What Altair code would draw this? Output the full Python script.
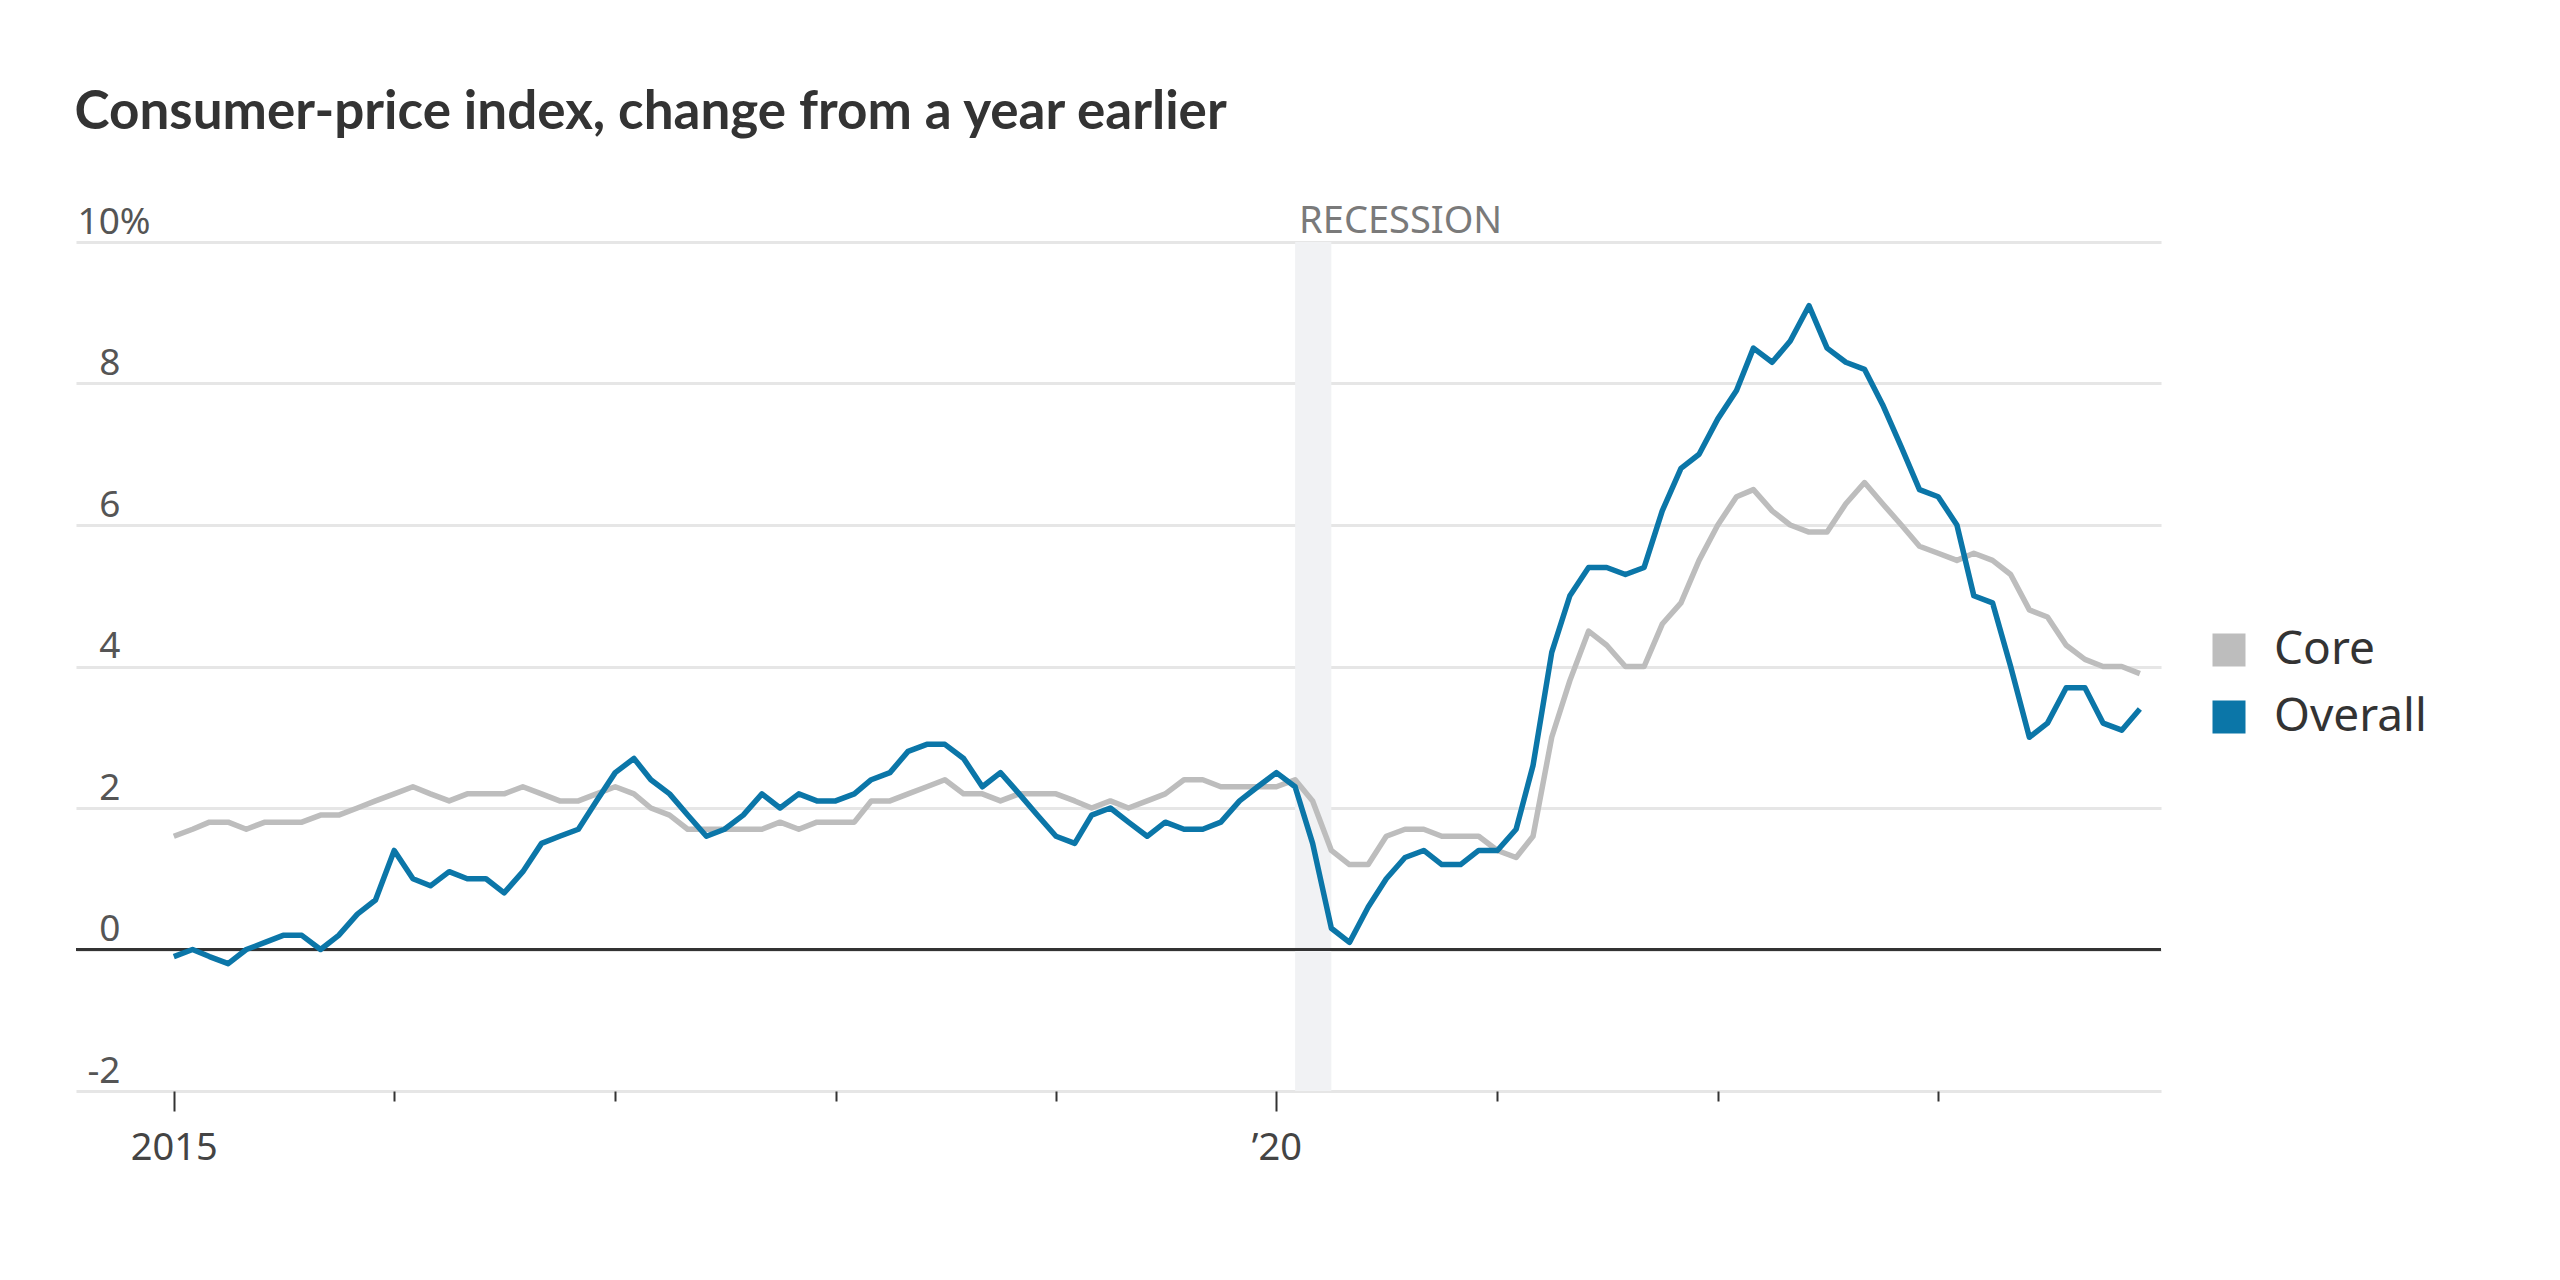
import altair as alt
import pandas as pd

# ---- data (monthly, Jan 2015 - Dec 2023), % change from a year earlier ----
months = pd.date_range("2015-01-01", "2023-12-01", freq="MS").strftime("%Y-%m-%dT00:00:00").tolist()

overall = [
    -0.1, 0.0, -0.1, -0.2, 0.0, 0.1, 0.2, 0.2, 0.0, 0.2, 0.5, 0.7,
    1.4, 1.0, 0.9, 1.1, 1.0, 1.0, 0.8, 1.1, 1.5, 1.6, 1.7, 2.1,
    2.5, 2.7, 2.4, 2.2, 1.9, 1.6, 1.7, 1.9, 2.2, 2.0, 2.2, 2.1,
    2.1, 2.2, 2.4, 2.5, 2.8, 2.9, 2.9, 2.7, 2.3, 2.5, 2.2, 1.9,
    1.6, 1.5, 1.9, 2.0, 1.8, 1.6, 1.8, 1.7, 1.7, 1.8, 2.1, 2.3,
    2.5, 2.3, 1.5, 0.3, 0.1, 0.6, 1.0, 1.3, 1.4, 1.2, 1.2, 1.4,
    1.4, 1.7, 2.6, 4.2, 5.0, 5.4, 5.4, 5.3, 5.4, 6.2, 6.8, 7.0,
    7.5, 7.9, 8.5, 8.3, 8.6, 9.1, 8.5, 8.3, 8.2, 7.7, 7.1, 6.5,
    6.4, 6.0, 5.0, 4.9, 4.0, 3.0, 3.2, 3.7, 3.7, 3.2, 3.1, 3.4,
]

core = [
    1.6, 1.7, 1.8, 1.8, 1.7, 1.8, 1.8, 1.8, 1.9, 1.9, 2.0, 2.1,
    2.2, 2.3, 2.2, 2.1, 2.2, 2.2, 2.2, 2.3, 2.2, 2.1, 2.1, 2.2,
    2.3, 2.2, 2.0, 1.9, 1.7, 1.7, 1.7, 1.7, 1.7, 1.8, 1.7, 1.8,
    1.8, 1.8, 2.1, 2.1, 2.2, 2.3, 2.4, 2.2, 2.2, 2.1, 2.2, 2.2,
    2.2, 2.1, 2.0, 2.1, 2.0, 2.1, 2.2, 2.4, 2.4, 2.3, 2.3, 2.3,
    2.3, 2.4, 2.1, 1.4, 1.2, 1.2, 1.6, 1.7, 1.7, 1.6, 1.6, 1.6,
    1.4, 1.3, 1.6, 3.0, 3.8, 4.5, 4.3, 4.0, 4.0, 4.6, 4.9, 5.5,
    6.0, 6.4, 6.5, 6.2, 6.0, 5.9, 5.9, 6.3, 6.6, 6.3, 6.0, 5.7,
    5.6, 5.5, 5.6, 5.5, 5.3, 4.8, 4.7, 4.3, 4.1, 4.0, 4.0, 3.9,
]

series_names = ["Core", "Overall"]
series_colors = ["#bdbdbd", "#0b76a8"]
y_ticks = [-2, 0, 2, 4, 6, 8, 10]
tick_years = list(range(2015, 2024))
x_domain = ["2014-07-23T00:00:00", "2024-01-05T00:00:00"]
recession = {"start": ["2020-02-01T00:00:00"], "end": ["2020-04-01T00:00:00"], "label": ["RECESSION"]}

df = pd.DataFrame({
    "date": months * 2,
    "value": core + overall,
    "series": ["Core"] * len(core) + ["Overall"] * len(overall),
})
rec_df = pd.DataFrame(recession)
zero_df = pd.DataFrame({"y": [0]})

LABEL_FONT = "Noto Sans"

x_scale = alt.Scale(domain=x_domain)
y_scale = alt.Scale(domain=[-2, 10])

x_axis = alt.Axis(
    values=[alt.DateTime(year=y, month=1, date=1) for y in tick_years],
    labelExpr="year(datum.value) == 2015 ? '2015' : (year(datum.value) == 2020 ? '\u201920' : '')",
    domain=False,
    grid=False,
    ticks=True,
    tickColor="#333333",
    tickWidth=2,
    tickSize={"condition": {"test": "year(datum.value) % 5 == 0", "value": 20}, "value": 10},
    labelFont=LABEL_FONT,
    labelFontSize=38,
    labelColor="#444444",
    labelPadding=18,
    labelFlush=False,
    labelOverlap=False,
    title=None,
)

y_axis = alt.Axis(
    values=y_ticks,
    labelExpr="datum.value == 10 ? '10%' : '' + datum.value",
    domain=False,
    ticks=False,
    tickSize=0,
    grid=True,
    gridColor="#e6e6e6",
    gridWidth=3,
    labelAlign={"condition": {"test": "datum.value == 10", "value": "left"}, "value": "right"},
    labelPadding={"condition": {"test": "datum.value == 10", "value": -1}, "value": -44},
    labelBaseline="alphabetic",
    labelOffset=-9,
    labelFont=LABEL_FONT,
    labelFontSize=37,
    labelColor="#555555",
    title=None,
)

band = alt.Chart(rec_df).mark_rect(color="#f1f2f4").encode(
    x=alt.X("start:T", scale=x_scale, axis=x_axis),
    x2="end:T",
)

band_label = alt.Chart(rec_df).mark_text(
    align="left", baseline="alphabetic", dx=4, dy=-9,
    font=LABEL_FONT, fontSize=38, color="#7a7a7a",
).encode(
    x=alt.X("start:T", scale=x_scale),
    y=alt.datum(10, scale=y_scale),
    text="label:N",
)

zero = alt.Chart(zero_df).mark_rule(color="#333333", strokeWidth=3).encode(
    y=alt.Y("y:Q", scale=y_scale, axis=y_axis),
)

lines = alt.Chart(df).mark_line(strokeWidth=5.5, strokeJoin="round", strokeCap="butt").encode(
    x=alt.X("date:T", scale=x_scale, axis=x_axis),
    y=alt.Y("value:Q", scale=y_scale, axis=y_axis),
    color=alt.Color(
        "series:N",
        scale=alt.Scale(domain=series_names, range=series_colors),
        legend=alt.Legend(
            title=None,
            orient="none",
            legendX=2130,
            legendY=385,
            symbolType="square",
            symbolSize=256,
            symbolStrokeWidth=17,
            symbolOpacity=1,
            labelFont=LABEL_FONT,
            labelFontSize=46,
            labelColor="#333333",
            labelOffset=22,
            rowPadding=-17,
        ),
    ),
)

chart = alt.layer(band, zero, lines, band_label).properties(
    width=2085,
    height=849,
    padding={"left": 66, "top": 79, "right": 20, "bottom": 20},
    title=alt.TitleParams(
        "Consumer-price index, change from a year earlier",
        anchor="start",
        font="Lato",
        fontSize=53,
        fontWeight="bold",
        color="#333333",
        offset=63,
    ),
).configure_view(stroke=None)

chart.save("out.html", embed_options={"renderer": "svg", "actions": False})
